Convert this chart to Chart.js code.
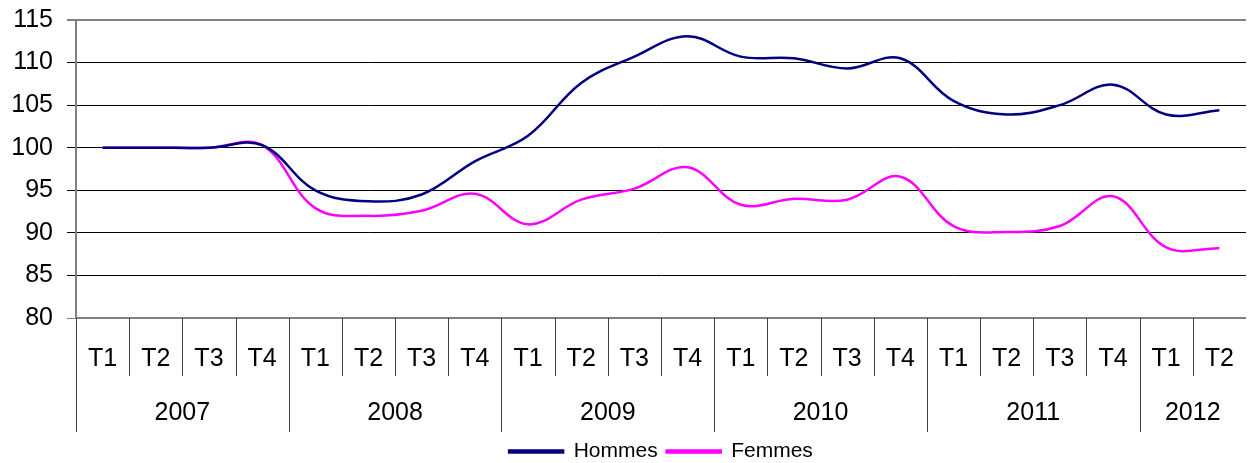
<!DOCTYPE html>
<html>
<head>
<meta charset="utf-8">
<script src="https://cdn.jsdelivr.net/npm/chart.js@4/dist/chart.umd.min.js"></script>
<style>
  html, body { margin: 0; padding: 0; background: #fff; }
  #wrap { width: 1260px; height: 463px; }
</style>
</head>
<body>
<div id="wrap"><canvas id="chart" width="1260" height="463"></canvas></div>
<script>
// trimestres / années
var quarters = ['T1', 'T2', 'T3', 'T4', 'T1', 'T2', 'T3', 'T4', 'T1', 'T2', 'T3', 'T4',
                'T1', 'T2', 'T3', 'T4', 'T1', 'T2', 'T3', 'T4', 'T1', 'T2'];
var years = ['2007', '2008', '2009', '2010', '2011', '2012'];
var quartersPerYear = [4, 4, 4, 4, 4, 2];

// indices base 100
var hommes = [100, 100, 100, 100.3, 95.0, 93.7, 94.5, 98.4, 101.4, 107.6, 110.7, 113.1,
              110.7, 110.5, 109.3, 110.5, 105.5, 103.9, 105.0, 107.4, 103.9, 104.4];
var femmes = [100, 100, 100, 100.3, 92.9, 92.0, 92.6, 94.6, 91.0, 93.9, 95.2, 97.7,
              93.3, 94.0, 93.9, 96.6, 90.8, 90.1, 90.8, 94.3, 88.3, 88.2];

var FONT = "Arial, 'Liberation Sans', sans-serif";

// separateurs et libelles des annees sous l'axe
var multiLevelAxis = {
    id: 'multiLevelAxis',
    afterDraw: function (chart) {
        var x = chart.scales.x;
        var ctx = chart.ctx;
        var bottom = chart.chartArea.bottom;
        var half = (x.getPixelForValue(1) - x.getPixelForValue(0)) / 2;
        var yearStarts = [];
        var start = 0;
        quartersPerYear.forEach(function (n) { yearStarts.push(start); start += n; });

        ctx.save();
        ctx.strokeStyle = '#404040';
        ctx.lineWidth = 1;
        for (var i = 0; i < quarters.length; i++) {
            var px = Math.round(x.getPixelForValue(i) - half) + 0.5;
            var end = yearStarts.includes(i) ? 432 : 376;
            ctx.beginPath();
            ctx.moveTo(px, bottom);
            ctx.lineTo(px, end);
            ctx.stroke();
        }

        ctx.fillStyle = '#000';
        ctx.font = '25px ' + FONT;
        ctx.textAlign = 'center';
        ctx.textBaseline = 'middle';
        years.forEach(function (label, k) {
            var first = yearStarts[k];
            var last = first + quartersPerYear[k] - 1;
            var cx = (x.getPixelForValue(first) + x.getPixelForValue(last)) / 2;
            ctx.fillText(label, cx, 413.5);
        });
        ctx.restore();
    }
};

var ctx = document.getElementById('chart').getContext('2d');
var chart = new Chart(ctx, {
    type: 'line',
    data: {
        labels: quarters,
        datasets: [{
            label: 'Hommes',
            data: hommes,
            borderColor: '#000080',
            backgroundColor: '#000080',
            borderWidth: 2.5,
            pointRadius: 0,
            tension: 0.38
        }, {
            label: 'Femmes',
            data: femmes,
            borderColor: '#ff00ff',
            backgroundColor: '#ff00ff',
            borderWidth: 2.5,
            pointRadius: 0,
            tension: 0.38
        }]
    },
    options: {
        responsive: false,
        animation: false,
        layout: { padding: { top: 20, right: 2, left: 0, bottom: -9 } },
        plugins: {
            tooltip: { enabled: false },
            legend: {
                position: 'bottom',
                fullSize: false,
                labels: {
                    font: { family: FONT, size: 21 },
                    color: '#000',
                    boxWidth: 54,
                    boxHeight: 2,
                    padding: 9
                }
            }
        },
        scales: {
            x: {
                offset: true,
                grid: { display: false, drawTicks: false, offset: true },
                border: { display: true, color: '#808080', width: 2 },
                ticks: {
                    font: { family: FONT, size: 25 },
                    color: '#000',
                    padding: 26,
                    maxRotation: 0,
                    autoSkip: false
                },
                afterFit: function (scale) { scale.height = 114; }
            },
            y: {
                min: 80,
                max: 115,
                ticks: {
                    stepSize: 5,
                    font: { family: FONT, size: 25 },
                    color: '#000',
                    padding: 14
                },
                grid: {
                    color: function (c) {
                        return (c.tick && (c.tick.value === 115 || c.tick.value === 80)) ? '#808080' : '#000';
                    },
                    lineWidth: function (c) {
                        return (c.tick && c.tick.value === 115) ? 2 : 1;
                    },
                    tickLength: 9
                },
                border: { display: true, color: '#808080', width: 2 },
                afterFit: function (scale) {
                    scale.width = 76;
                    scale.paddingTop = 0;
                    scale.paddingBottom = 0;
                }
            }
        }
    },
    plugins: [multiLevelAxis]
});
</script>
</body>
</html>
